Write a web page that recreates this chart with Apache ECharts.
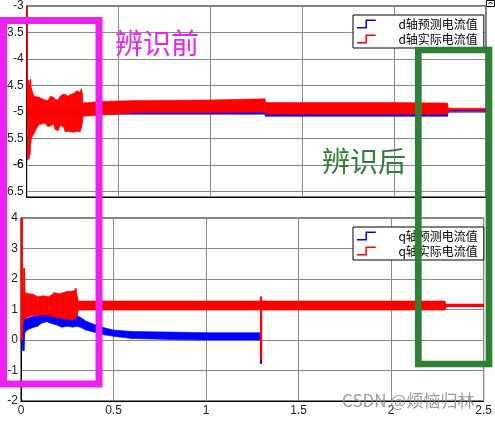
<!DOCTYPE html>
<html><head><meta charset="utf-8">
<script src="https://cdn.jsdelivr.net/npm/echarts@6/dist/echarts.min.js"></script>
<style>html,body{margin:0;padding:0;background:#fff}#c{width:495px;height:422px}</style>
</head><body><div id="c"></div>
<script>
// ---- data ----
const xTicks = [0, 0.5, 1, 1.5, 2, 2.5];
const dTicks = [-6.5, -6, -5.5, -5, -4.5, -4, -3.5, -3];
const qTicks = [-2, -1, 0, 1, 2, 3, 4];
const dNames = ['d轴预测电流值', 'd轴实际电流值'];
const qNames = ['q轴预测电流值', 'q轴实际电流值'];
// noisy signals given as envelopes: [t, low, high]
const dPredicted = [[0,-5.06,-4.95],[0.30,-5.06,-4.95],[0.31,-5.04,-4.98],[1.296,-5.04,-4.98],[1.30,-5.08,-5.02],[2.29,-5.08,-5.02],[2.295,-4.99,-4.955],[2.5,-4.99,-4.955]];
const dActual = [[0,-3.3,-3.0],[0.003,-5.0,-3.0],[0.005,-5.9,-4.4],[0.012,-5.88,-4.4],[0.018,-5.8,-4.5],[0.021,-5.6,-4.38],[0.025,-5.5,-4.55],[0.04,-5.40,-4.70],[0.066,-5.24,-4.72],[0.085,-5.22,-4.75],[0.10,-5.21,-4.77],[0.115,-5.27,-4.78],[0.13,-5.26,-4.70],[0.145,-5.22,-4.72],[0.156,-5.33,-4.76],[0.17,-5.35,-4.77],[0.183,-5.25,-4.70],[0.20,-5.28,-4.66],[0.21,-5.37,-4.67],[0.225,-5.36,-4.70],[0.237,-5.37,-4.67],[0.255,-5.38,-4.65],[0.272,-5.36,-4.60],[0.29,-5.37,-4.62],[0.298,-5.30,-4.56],[0.303,-5.20,-4.65],[0.306,-5.08,-4.83],[0.40,-5.06,-4.80],[0.60,-5.01,-4.78],[1.00,-5.01,-4.77],[1.296,-5.0,-4.75],[1.30,-5.04,-4.82],[2.0,-5.04,-4.82],[2.29,-5.04,-4.83],[2.295,-4.965,-4.925],[2.5,-4.965,-4.925]];
const qPredicted = [[0,-0.02,0.02],[0.008,-0.02,0.02],[0.01,-0.35,1.4],[0.016,-0.35,1.4],[0.02,0.25,0.7],[0.04,0.35,0.72],[0.07,0.42,0.78],[0.09,0.45,0.8],[0.11,0.55,0.88],[0.14,0.6,0.9],[0.16,0.55,0.86],[0.19,0.5,0.82],[0.22,0.42,0.78],[0.25,0.45,0.8],[0.28,0.42,0.76],[0.30,0.45,0.82],[0.32,0.42,0.75],[0.35,0.33,0.62],[0.40,0.25,0.5],[0.45,0.17,0.4],[0.50,0.12,0.33],[0.60,0.05,0.28],[0.80,0.02,0.26],[1.00,0.0,0.24],[1.294,0.0,0.24],[1.294,-0.77,0.24],[1.30,-0.77,0.24],[1.30,1.02,1.22],[2.29,1.02,1.22],[2.295,1.1,1.16],[2.5,1.1,1.16]];
const qActual = [[0,0.0,4.0],[0.008,0.0,4.0],[0.008,0.3,1.4],[0.013,0.6,1.5],[0.015,0.7,2.36],[0.019,0.7,2.36],[0.022,0.72,1.55],[0.04,0.75,1.52],[0.066,0.8,1.5],[0.09,0.8,1.42],[0.12,0.82,1.45],[0.15,0.8,1.42],[0.18,0.75,1.55],[0.21,0.72,1.52],[0.24,0.68,1.58],[0.27,0.66,1.6],[0.29,0.7,1.62],[0.297,0.72,1.70],[0.303,0.8,1.45],[0.31,0.98,1.28],[1.294,0.98,1.28],[1.294,-0.65,1.42],[1.30,-0.65,1.42],[1.30,0.98,1.28],[2.29,0.98,1.28],[2.295,1.09,1.18],[2.5,1.09,1.18]];

// ---- chart ----
const BLUE = '#0000ff', RED = '#ff0000';
const MAG = '#ee22ee', GREEN = '#2f8032';
const GRIDC = '#8a8a8a';
const labelFont = {fontFamily: 'Liberation Sans, Arial, sans-serif', fontSize: 12, color: '#222'};

function bandSeries(name, band, color, axisIdx) {
  return {
    type: 'custom', name: name, xAxisIndex: axisIdx, yAxisIndex: axisIdx,
    itemStyle: {color: color},
    encode: {x: 0, y: [1, 2]},
    data: band,
    animation: false,
    renderItem: function (params, api) {
      const i = params.dataIndex;
      if (i >= band.length - 1) return null;
      const a = band[i], b = band[i + 1];
      const pts = [api.coord([a[0], a[2]]), api.coord([b[0], b[2]]), api.coord([b[0], b[1]]), api.coord([a[0], a[1]])];
      return {type: 'polygon', shape: {points: pts}, style: {fill: color, stroke: color, lineWidth: 0.6}};
    }
  };
}

// helper: the "-6" tick of the top plot, placed through the y scale with a markLine
const dMissingTick = {
  type: 'line', xAxisIndex: 0, yAxisIndex: 0, data: [], silent: true, animation: false,
  markLine: {
    silent: true, animation: false, symbol: ['none', 'none'],
    lineStyle: {color: GRIDC, width: 1, type: 'solid'},
    label: Object.assign({show: true, position: 'start', distance: 3, formatter: () => String(dTicks[1])}, labelFont),
    emphasis: {disabled: true},
    data: [{yAxis: dTicks[1]}]
  }
};

const stepIcon = 'path://M0,8 L9,8 L9,0 L20,0 L20,1.6 L10.6,1.6 L10.6,9.6 L0,9.6 Z';

function legendAt(top, names) {
  return {
    left: 353, top: top, orient: 'vertical',
    backgroundColor: '#fff', borderColor: '#000', borderWidth: 1, borderRadius: 0,
    padding: [2, 6, 2, 4], itemGap: 1, itemWidth: 20, itemHeight: 9,
    itemStyle: {borderWidth: 0},
    textStyle: {fontFamily: 'Noto Sans CJK SC', fontSize: 12, color: '#000', lineHeight: 14, padding: [0, 0, 0, 17]},
    data: names.map(n => ({name: n, icon: stepIcon}))
  };
}

function xAxis(gridIndex, showLabels) {
  return {
    type: 'value', gridIndex: gridIndex, min: xTicks[0], max: xTicks[xTicks.length - 1], interval: 0.5,
    axisLine: {show: true, onZero: false, lineStyle: {color: '#000', width: 1}},
    axisTick: {show: false},
    axisLabel: Object.assign({show: showLabels, margin: 4, formatter: v => String(v)}, labelFont),
    splitLine: {show: true, lineStyle: {color: GRIDC, width: 1}}
  };
}

const chart = echarts.init(document.getElementById('c'), null, {renderer: 'canvas'});
chart.setOption({
  backgroundColor: '#fff',
  animation: false,
  grid: [
    {left: 21, top: 6, width: 465, height: 191, show: true, borderColor: '#000', borderWidth: 1, backgroundColor: 'transparent'},
    {left: 21, top: 218, width: 465, height: 183, show: true, borderColor: '#000', borderWidth: 1, backgroundColor: 'transparent'}
  ],
  xAxis: [xAxis(0, false), xAxis(1, true)],
  yAxis: [
    {type: 'value', gridIndex: 0, min: -6.6, max: dTicks[dTicks.length - 1], splitNumber: 7,
     axisLine: {show: true, lineStyle: {color: '#000'}},
     axisTick: {show: false},
     axisLabel: Object.assign({showMinLabel: false, margin: 3, formatter: v => (dTicks.indexOf(Math.round(v * 10) / 10) >= 0 ? String(Math.round(v * 10) / 10) : '')}, labelFont),
     splitLine: {show: true, lineStyle: {color: GRIDC, width: 1}}},
    {type: 'value', gridIndex: 1, min: qTicks[0], max: qTicks[qTicks.length - 1], interval: 1,
     axisLine: {show: true, lineStyle: {color: '#000'}},
     axisTick: {show: false},
     axisLabel: Object.assign({margin: 3, formatter: v => String(v)}, labelFont),
     splitLine: {show: true, lineStyle: {color: GRIDC, width: 1}}}
  ],
  legend: [legendAt(15, dNames), legendAt(227, qNames)],
  series: [
    dMissingTick,
    bandSeries(dNames[0], dPredicted, BLUE, 0),
    bandSeries(dNames[1], dActual, RED, 0),
    bandSeries(qNames[0], qPredicted, BLUE, 1),
    bandSeries(qNames[1], qActual, RED, 1)
  ],
  graphic: [
    {type: 'rect', z: 100, shape: {x: 3.5, y: 20.5, width: 95.5, height: 363.5}, style: {fill: 'none', stroke: MAG, lineWidth: 7}},
    {type: 'rect', z: 100, shape: {x: 418.3, y: 50, width: 70.7, height: 314}, style: {fill: 'none', stroke: GREEN, lineWidth: 6.7}},
    {type: 'text', z: 100, left: 115, top: 29, style: {text: '辨识前', fill: MAG, font: '28px "Noto Sans CJK SC"'}},
    {type: 'text', z: 100, left: 322, top: 147, style: {text: '辨识后', fill: GREEN, font: '28px "Noto Sans CJK SC"'}},
    {type: 'text', z: 100, left: 342, top: 392, style: {text: 'CSDN @烦恼归林', fill: 'rgba(140,140,140,0.85)', font: '17px "Noto Sans CJK SC"'}},
    {type: 'rect', z: 100, shape: {x: 486.5, y: 0.5, width: 8, height: 6}, style: {fill: '#fff', stroke: '#000', lineWidth: 1}},
    {type: 'polyline', z: 101, shape: {points: [[488.5, 4], [490.5, 2], [492.5, 4]]}, style: {fill: 'none', stroke: '#000', lineWidth: 1}}
  ]
});
</script>
</body></html>
